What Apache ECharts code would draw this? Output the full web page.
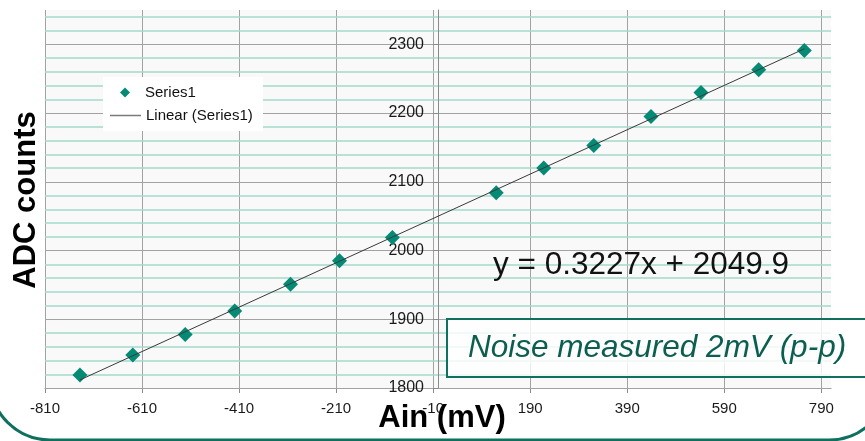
<!DOCTYPE html>
<html>
<head>
<meta charset="utf-8">
<script src="https://cdn.jsdelivr.net/npm/echarts@6/dist/echarts.min.js"></script>
<style>
  html, body { margin: 0; padding: 0; background: #ffffff; }
  #chart { width: 865px; height: 441px; }
</style>
</head>
<body>
<div id="chart"></div>
<script>
// Input voltage applied to Ain (mV) and the resulting ADC output codes
const ainMv = [-738, -629, -521, -419, -304, -203, -94, 120, 218, 321, 439, 542, 661, 755];
const adcCounts = [1819, 1848, 1878, 1912, 1951, 1985, 2019, 2084, 2120, 2153, 2195, 2230, 2263, 2291];

// Linear trendline coefficients
const fitSlope = 0.3227;
const fitIntercept = 2049.9;

// Axis ticks
const xTicks = [-810, -610, -410, -210, -10, 190, 390, 590, 790];
const xAxisMax = 810;
const yTicks = [1800, 1900, 2000, 2100, 2200, 2300];
const yAxisMax = 2350;
const yMinorStep = 20;

const seriesName = 'Series1';
const trendName = 'Linear (Series1)';
const xTitle = 'Ain (mV)';
const yTitle = 'ADC counts';
const noiseNote = 'Noise measured 2mV (p-p)';

const FONT = '"Liberation Sans", Arial, Helvetica, sans-serif';
const GRAY = '#a2a2a2';
const MINT = '#a3d9c8';
const TEAL = '#058a75';
const FRAME = '#0f705f';

// Plot box in pixels
const GRID = { left: 45, right: 34, top: 10, bottom: 53 };
const plotWidth = 865 - GRID.left - GRID.right;
// The value axis crosses the horizontal axis at x = 0
const yAxisShift = -(0 - xTicks[0]) / (xAxisMax - xTicks[0]) * plotWidth;

const points = ainMv.map((x, i) => [x, adcCounts[i]]);
const xLo = Math.min(...ainMv);
const xHi = Math.max(...ainMv);
const trend = [[xLo, fitSlope * xLo + fitIntercept], [xHi, fitSlope * xHi + fitIntercept]];
const equation = 'y = ' + fitSlope + 'x + ' + fitIntercept;

const chart = echarts.init(document.getElementById('chart'), null, { renderer: 'canvas' });

chart.setOption({
  animation: false,
  grid: {
    left: GRID.left, right: GRID.right, top: GRID.top, bottom: GRID.bottom,
    containLabel: false,
    outerBoundsMode: 'none',
    show: true, backgroundColor: '#f9f9f9', borderWidth: 0
  },
  xAxis: {
    type: 'value',
    min: xTicks[0],
    max: xAxisMax,
    interval: xTicks[1] - xTicks[0],
    axisLine: { onZero: false, lineStyle: { color: '#8a8a8a', width: 1 } },
    axisTick: { show: true, length: 5, lineStyle: { color: '#8a8a8a' } },
    axisLabel: {
      fontSize: 15, color: '#1a1a1a', margin: 13, fontFamily: FONT,
      showMaxLabel: false,
      formatter: v => String(v)
    },
    splitLine: { show: true, showMaxLine: false, lineStyle: { color: GRAY, width: 1 } }
  },
  yAxis: [
    {
      type: 'value',
      position: 'left',
      offset: yAxisShift,
      min: yTicks[0],
      max: yAxisMax,
      interval: yTicks[1] - yTicks[0],
      axisLine: { show: true, onZero: false, lineStyle: { color: '#8a8a8a', width: 1 } },
      axisTick: { show: true, length: 5, lineStyle: { color: '#8a8a8a' } },
      axisLabel: {
        fontSize: 16, color: '#1a1a1a', margin: 14, fontFamily: FONT,
        showMaxLabel: false,
        formatter: v => String(v)
      },
      splitLine: { show: true, showMaxLine: false, lineStyle: { color: GRAY, width: 1 } },
      z: 3
    },
    {
      type: 'value',
      position: 'right',
      min: yTicks[0],
      max: yAxisMax,
      interval: yMinorStep,
      axisLine: { show: false, onZero: false },
      axisTick: { show: false },
      axisLabel: { show: false },
      splitLine: {
        show: true, showMaxLine: false,
        lineStyle: { color: ['rgba(0,0,0,0)', MINT, MINT, MINT, MINT], width: 1.6 }
      },
      z: 1
    }
  ],
  legend: [
    {
      data: [{ name: seriesName, icon: 'diamond' }],
      left: 120, top: 85,
      itemWidth: 10, itemHeight: 10,
      selectedMode: false,
      padding: 0,
      textStyle: { fontSize: 15, color: '#111', fontFamily: FONT, padding: [0, 0, 0, 10] },
      z: 8
    },
    {
      data: [{ name: trendName, icon: 'rect', itemStyle: { color: '#7a7a7a', borderWidth: 0 } }],
      left: 110, top: 108,
      itemWidth: 31, itemHeight: 1.5,
      selectedMode: false,
      padding: 0,
      textStyle: { fontSize: 15, color: '#111', fontFamily: FONT, padding: [0, 0, 0, 0] },
      z: 8
    }
  ],
  series: [
    {
      name: seriesName,
      type: 'scatter',
      yAxisIndex: 0,
      data: points,
      symbol: 'diamond',
      symbolSize: [15, 15],
      itemStyle: { color: TEAL, opacity: 1 },
      z: 4
    },
    {
      name: trendName,
      type: 'line',
      yAxisIndex: 0,
      data: trend,
      symbol: 'none',
      itemStyle: { color: '#3a3a3a' },
      lineStyle: { color: '#3a3a3a', width: 1 },
      z: 5
    }
  ],
  graphic: [
    {
      type: 'rect',
      shape: { x: 103, y: 77, width: 160, height: 54 },
      style: { fill: '#ffffff' },
      z: 7
    },
    {
      type: 'text',
      x: 493, y: 265,
      style: {
        text: equation,
        fontSize: 31.5, fontFamily: FONT, fill: '#111',
        align: 'left', verticalAlign: 'middle',
        textAlign: 'left', textVerticalAlign: 'middle'
      },
      z: 9
    },
    {
      type: 'rect',
      shape: { x: 447, y: 319, width: 440, height: 58 },
      style: { fill: 'rgba(255,255,255,0.82)', stroke: FRAME, lineWidth: 2 },
      z: 9
    },
    {
      type: 'text',
      x: 468, y: 348,
      style: {
        text: noiseNote,
        fontSize: 31.5, fontStyle: 'italic', fontFamily: FONT, fill: '#0c5e50',
        align: 'left', verticalAlign: 'middle',
        textAlign: 'left', textVerticalAlign: 'middle'
      },
      z: 10
    },
    {
      type: 'text',
      x: 442, y: 418,
      style: {
        text: xTitle,
        fontSize: 31, fontWeight: 'bold', fontFamily: FONT, fill: '#000',
        align: 'center', verticalAlign: 'middle',
        textAlign: 'center', textVerticalAlign: 'middle'
      },
      z: 10
    },
    {
      type: 'text',
      x: 26, y: 200,
      rotation: Math.PI / 2,
      style: {
        text: yTitle,
        fontSize: 31, fontWeight: 'bold', fontFamily: FONT, fill: '#000',
        align: 'center', verticalAlign: 'middle',
        textAlign: 'center', textVerticalAlign: 'middle'
      },
      z: 10
    },
    {
      type: 'rect',
      shape: { x: -10, y: -100, width: 899, height: 540, r: 60 },
      style: { fill: 'none', stroke: FRAME, lineWidth: 3 },
      z: 11
    }
  ]
});
</script>
</body>
</html>
